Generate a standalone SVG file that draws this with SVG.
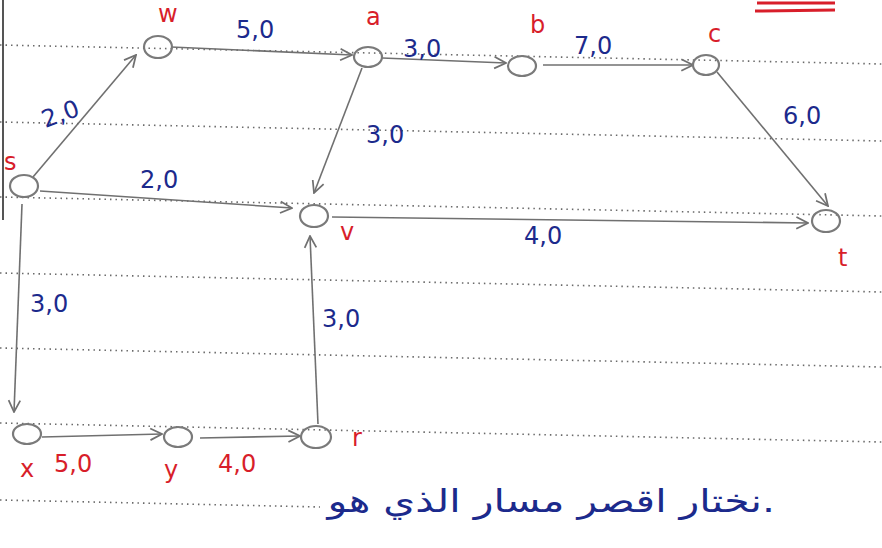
<svg xmlns="http://www.w3.org/2000/svg" width="882" height="548" viewBox="0 0 882 548">
<style>
.rule{stroke:#6a6a6a;stroke-width:1.6;stroke-dasharray:1.5 4;fill:none}
.node ellipse{fill:none;stroke:#7a7a7a;stroke-width:2.2}
.edge{stroke:#707070;stroke-width:1.6;fill:none;marker-end:url(#ah)}
.lb{font-family:"DejaVu Sans","Liberation Sans",sans-serif;font-size:24px;fill:#1c2a8c}
.lr{font-family:"DejaVu Sans","Liberation Sans",sans-serif;font-size:24px;fill:#d81e2a}
.ar{font-family:"DejaVu Sans",sans-serif;font-size:32px;fill:#1c2a8c}
</style>
<defs>
<marker id="ah" viewBox="0 0 12 12" refX="11" refY="6" markerWidth="14" markerHeight="14" markerUnits="userSpaceOnUse" orient="auto">
<path d="M1,1 L11,6 L1,11" fill="none" stroke="#707070" stroke-width="1.5"/>
</marker>
</defs>
<rect width="882" height="548" fill="#ffffff"/>
<g id="paper">
<line class="rule" x1="0" y1="45" x2="882" y2="64"/>
<line class="rule" x1="0" y1="122" x2="882" y2="141"/>
<line class="rule" x1="0" y1="197" x2="882" y2="216"/>
<line class="rule" x1="0" y1="273" x2="882" y2="292"/>
<line class="rule" x1="0" y1="348" x2="882" y2="367"/>
<line class="rule" x1="0" y1="423" x2="882" y2="442"/>
<line class="rule" x1="0" y1="500" x2="320" y2="507"/>
<line x1="3" y1="0" x2="3" y2="220" stroke="#555" stroke-width="2"/>
<line x1="757" y1="3" x2="835" y2="3" stroke="#d81e2a" stroke-width="3"/>
<line x1="755" y1="11" x2="835" y2="10" stroke="#d81e2a" stroke-width="3"/>
</g>
<g id="connectors">
<line class="edge" x1="33" y1="177" x2="136" y2="55"/>
<line class="edge" x1="171" y1="47" x2="352" y2="55"/>
<line class="edge" x1="382" y1="58" x2="506" y2="63"/>
<line class="edge" x1="543" y1="65" x2="693" y2="65"/>
<line class="edge" x1="717" y1="72" x2="828" y2="206"/>
<line class="edge" x1="362" y1="68" x2="314" y2="193"/>
<line class="edge" x1="40" y1="191" x2="292" y2="208"/>
<line class="edge" x1="332" y1="217" x2="808" y2="223"/>
<line class="edge" x1="22" y1="204" x2="14" y2="412"/>
<line class="edge" x1="42" y1="437" x2="162" y2="434"/>
<line class="edge" x1="200" y1="438" x2="300" y2="436"/>
<line class="edge" x1="318" y1="424" x2="310" y2="236"/>
</g>
<g id="s" class="node"><ellipse cx="24" cy="186" rx="14" ry="11"/><text class="lr" x="4" y="170">s</text></g>
<g id="w" class="node"><ellipse cx="158" cy="47" rx="14" ry="11"/><text class="lr" x="158" y="22">w</text></g>
<g id="a" class="node"><ellipse cx="368" cy="57" rx="14" ry="10"/><text class="lr" x="366" y="25">a</text></g>
<g id="b" class="node"><ellipse cx="522" cy="66" rx="14" ry="10"/><text class="lr" x="530" y="33">b</text></g>
<g id="c" class="node"><ellipse cx="706" cy="65" rx="13" ry="10"/><text class="lr" x="708" y="42">c</text></g>
<g id="v" class="node"><ellipse cx="314" cy="216" rx="14" ry="11"/><text class="lr" x="340" y="240">v</text></g>
<g id="t" class="node"><ellipse cx="826" cy="221" rx="14" ry="11"/><text class="lr" x="838" y="266">t</text></g>
<g id="x" class="node"><ellipse cx="27" cy="434" rx="14" ry="10"/><text class="lr" x="20" y="477">x</text></g>
<g id="y" class="node"><ellipse cx="178" cy="437" rx="14" ry="10"/><text class="lr" x="164" y="478">y</text></g>
<g id="r" class="node"><ellipse cx="316" cy="437" rx="15" ry="11"/><text class="lr" x="352" y="446">r</text></g>
<g id="labels">
<text class="lb" x="40" y="122" transform="rotate(-20 60 110)">2,0</text>
<text class="lb" x="236" y="38">5,0</text>
<text class="lb" x="403" y="57">3,0</text>
<text class="lb" x="574" y="54">7,0</text>
<text class="lb" x="783" y="124">6,0</text>
<text class="lb" x="366" y="143">3,0</text>
<text class="lb" x="140" y="188">2,0</text>
<text class="lb" x="524" y="244">4,0</text>
<text class="lb" x="30" y="312">3,0</text>
<text class="lb" x="322" y="327">3,0</text>
<text class="lr" x="54" y="472">5,0</text>
<text class="lr" x="218" y="472">4,0</text>
</g>
<g id="note" transform="translate(775 512) scale(1.28 1)">
<text class="ar" x="0" y="0" direction="rtl">.نختار اقصر مسار الذي هو</text>
</g>
</svg>
